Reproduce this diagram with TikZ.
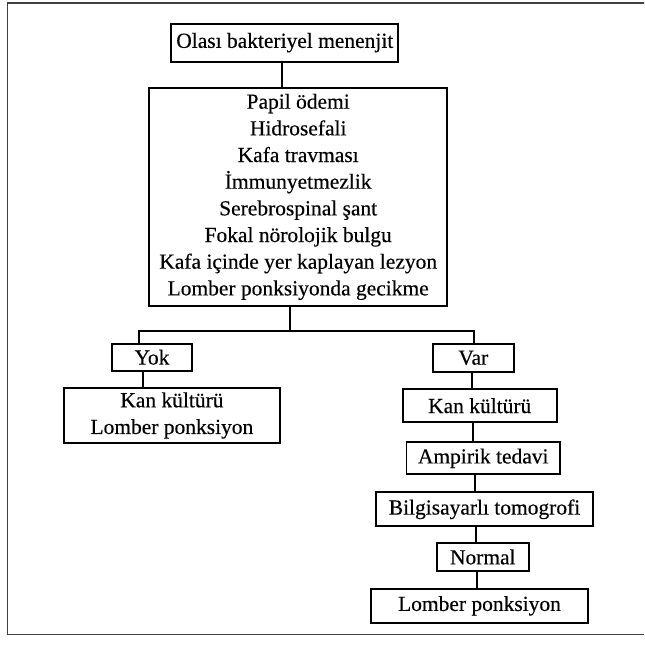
\documentclass[tikz,border=0pt]{standalone}
\usepackage{fontspec}
\setmainfont{Liberation Serif}[FakeBold=0.3]
\begin{document}
\begin{tikzpicture}[x=0.75pt,y=-0.75pt,
  box/.style={draw, line width=1.4pt, inner sep=0pt, align=center,
    font=\fontsize{16.1}{20}\selectfont},
  link/.style={line width=1.4pt},
  frame/.style={draw=black!75, line width=1.2pt}]
\useasboundingbox (0,0) rectangle (644,645);
\clip (0,0) rectangle (644,645);
\draw[frame] (7.3,3.3) rectangle (670,634.3);

\node[box, minimum width=170.3pt, minimum height=28.5pt] (olasi) at (284.8,42.7) {Olası bakteriyel menenjit};
\node[box, minimum width=223.7pt, minimum height=163.3pt] (main) at (298.2,196.9)
  {Papil ödemi\\Hidrosefali\\Kafa travması\\İmmunyetmezlik\\Serebrospinal şant\\Fokal nörolojik bulgu\\Kafa içinde yer kaplayan lezyon\\Lomber ponksiyonda gecikme};
\node[box, minimum width=60pt, minimum height=20.3pt] (yok) at (152,357.2) {Yok};
\node[box, minimum width=162.2pt, minimum height=41.3pt] (kan1) at (171.9,415.5) {Kan kültürü\\Lomber ponksiyon};
\node[box, minimum width=60.5pt, minimum height=20.8pt] (var) at (473.3,357.8) {Var};
\node[box, minimum width=115.5pt, minimum height=25pt] (kan2) at (479.7,405.7) {Kan kültürü};
\node[box, minimum width=115.1pt, minimum height=24pt] (amp) at (483.2,458.3) {Ampirik tedavi};
\node[box, minimum width=163.2pt, minimum height=25.5pt] (bt) at (484.5,509.3) {Bilgisayarlı tomogrofi};
\node[box, minimum width=68.8pt, minimum height=20.5pt] (normal) at (482.8,557) {Normal};
\node[box, minimum width=163.2pt, minimum height=25.3pt] (lomber) at (479.5,605.8) {Lomber ponksiyon};

\coordinate (j) at (290,331);
\coordinate (jl) at (139,331);
\coordinate (jr) at (474,331);

\draw[link] (olasi.south -| 282.3,0) -- (main.north -| 282.3,0);
\draw[link] (main.south -| j) -- (j);
\draw[link] (yok.north -| jl) -- (jl) -- (jr) -- (var.north -| jr);
\draw[link] (yok.south -| 142.7,0) -- (kan1.north -| 142.7,0);
\draw[link] (var.south -| 472.3,0) -- (kan2.north -| 472.3,0);
\draw[link] (kan2.south -| 473.3,0) -- (amp.north -| 473.3,0);
\draw[link] (amp.south -| 474.7,0) -- (bt.north -| 474.7,0);
\draw[link] (bt.south -| 476.3,0) -- (normal.north -| 476.3,0);
\draw[link] (normal.south -| 477.3,0) -- (lomber.north -| 477.3,0);
\end{tikzpicture}
\end{document}
